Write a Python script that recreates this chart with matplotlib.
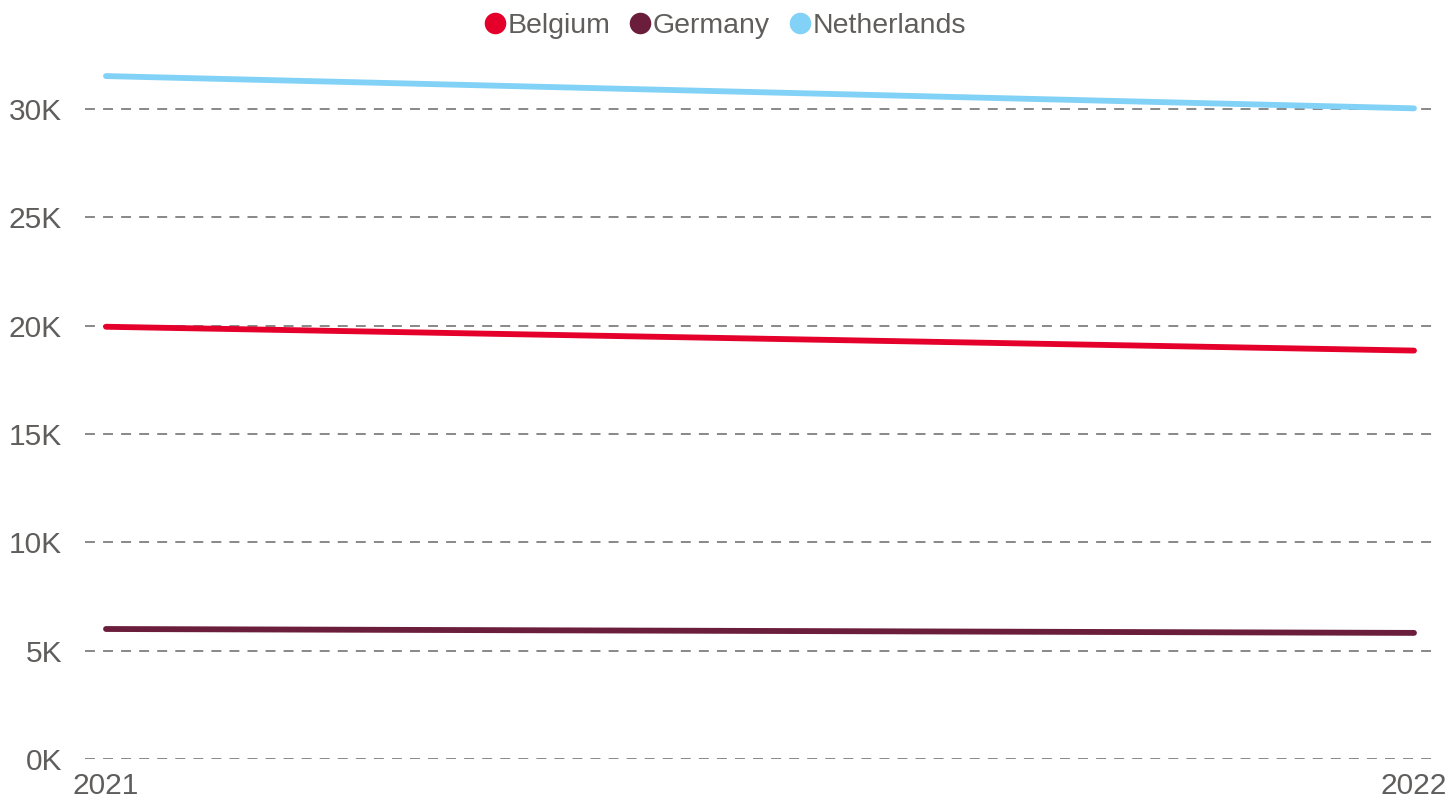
import matplotlib
matplotlib.use("Agg")
import matplotlib.pyplot as plt
from matplotlib.ticker import FuncFormatter
from matplotlib.lines import Line2D

plt.rcParams['font.family'] = ['Liberation Sans', 'DejaVu Sans']

years = [2021, 2022]
series_names = ["Belgium", "Germany", "Netherlands"]
belgium = [19950, 18850]
germany = [6000, 5820]
netherlands = [31520, 30030]
colors = {"Belgium": "#E4002B", "Germany": "#6B1E3C", "Netherlands": "#81D2F6"}
yticks = [0, 5000, 10000, 15000, 20000, 25000, 30000]

W, H = 1453, 802
fig = plt.figure(figsize=(W / 100, H / 100), dpi=100)
ax = fig.add_axes([85 / W, 1 - 759 / H, (1435 - 85) / W, (759 - 40) / H])

ax.set_xlim(2021 - 21 / 1308, 2022 + 21 / 1308)
ax.set_ylim(0, 30000 * (759 - 40) / (759 - 109))

for v in yticks:
    ax.axhline(v, color="#7F7F7F", lw=1.3, dashes=(5.5, 4.5), zorder=1)

for name, vals in zip(series_names, [belgium, germany, netherlands]):
    ax.plot(years, vals, color=colors[name], lw=4.2, solid_capstyle="round", zorder=3)

ax.set_yticks(yticks)
ax.yaxis.set_major_formatter(FuncFormatter(lambda v, p: f"{int(v/1000)}K"))
ax.set_xticks(years)
ax.set_xticklabels([str(y) for y in years])
ax.tick_params(axis="both", length=0, labelsize=21.5, labelcolor="#605E5C")
ax.tick_params(axis="y", pad=16.5)
ax.tick_params(axis="x", pad=9)
for s in ax.spines.values():
    s.set_visible(False)

handles = [Line2D([], [], marker="o", linestyle="none", markersize=14.5,
                  markerfacecolor=colors[n], markeredgecolor=colors[n]) for n in series_names]
fig.legend(handles, series_names, loc="center", bbox_to_anchor=(722 / W, 1 - 26 / H),
           ncol=3, frameon=False, fontsize=20.5, labelcolor="#605E5C",
           handletextpad=-0.15, columnspacing=0.45, handlelength=1.2)

fig.savefig("out.png", dpi=100)
